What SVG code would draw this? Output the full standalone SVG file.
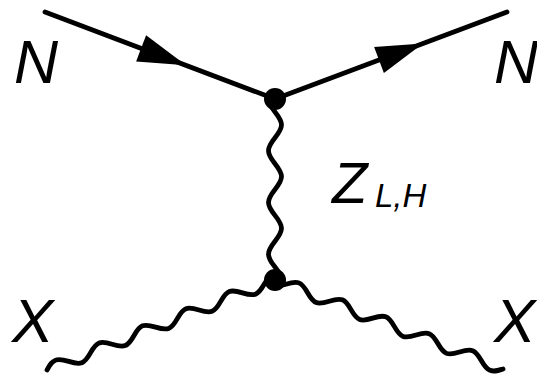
<svg xmlns="http://www.w3.org/2000/svg" width="537" height="376" viewBox="0 0 537 376">
  <style>
    .fermion { stroke: #000; stroke-width: 4.8; fill: none; stroke-linecap: round; }
    .boson { stroke: #000; stroke-width: 4.8; fill: none; stroke-linecap: round; stroke-linejoin: round; }
    .arrow { fill: #000; stroke: none; }
    .vertex { fill: #000; }
    .lbl { font-family: "Liberation Sans", Arial, sans-serif; font-style: italic; fill: #000; }
  </style>
  <rect width="537" height="376" fill="#fff"/>
  <g id="connectors">
    <line class="fermion" x1="45" y1="12" x2="275" y2="99"/>
    <polygon class="arrow" points="186,65.3 136.1,61.4 146.1,35.2"/>
    <line class="fermion" x1="275" y1="99" x2="507" y2="12"/>
    <polygon class="arrow" points="423,43.5 374.1,46.9 383.9,73.1"/>
    <path class="boson" transform="translate(275,99) rotate(90)" d="M0,6.5 c9.41,0 16.45,-13 25.86,-13 s16.45,13 25.86,13 s16.45,-13 25.86,-13 s16.45,13 25.86,13 s16.45,-13 25.86,-13 s16.45,13 25.86,13 s16.45,-13 25.86,-13"/>
    <path class="boson" transform="translate(275,280) rotate(158.46)" d="M0,6 c8.5,0 14.84,-12 23.34,-12 s14.84,12 23.34,12 s14.84,-12 23.34,-12 s14.84,12 23.34,12 s14.84,-12 23.34,-12 s14.84,12 23.34,12 s14.84,-12 23.34,-12 s14.84,12 23.34,12 s14.84,-12 23.34,-12 s14.84,12 23.34,12 c4.67,0 7,-2.23 11.67,-6"/>
    <path class="boson" transform="translate(275,280) rotate(21.32)" d="M0,6 c8.49,0 14.82,-12 23.31,-12 s14.82,12 23.31,12 s14.82,-12 23.31,-12 s14.82,12 23.31,12 s14.82,-12 23.31,-12 s14.82,12 23.31,12 s14.82,-12 23.31,-12 s14.82,12 23.31,12 s14.82,-12 23.31,-12 s14.82,12 23.31,12 c4.66,0 7,-2.23 11.66,-6"/>
  </g>
  <g id="vertex-top"><circle class="vertex" cx="275" cy="99" r="11"/></g>
  <g id="vertex-bottom"><circle class="vertex" cx="275" cy="280" r="11"/></g>
  <g id="label-N-in"><text class="lbl" x="14" y="83" font-size="61">N</text></g>
  <g id="label-N-out"><text class="lbl" x="494" y="83" font-size="61">N</text></g>
  <g id="label-X-in"><text class="lbl" x="12" y="342" font-size="62">X</text></g>
  <g id="label-X-out"><text class="lbl" x="494" y="342" font-size="62">X</text></g>
  <g id="label-Z"><text class="lbl" x="332" y="203" font-size="58">Z<tspan x="375" y="207" font-size="33">L,H</tspan></text></g>
</svg>
